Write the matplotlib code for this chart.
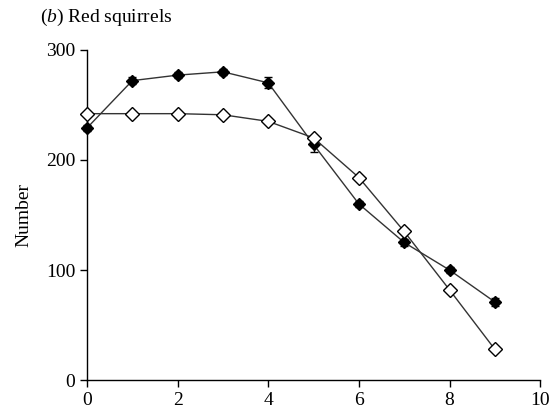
import matplotlib.pyplot as plt
import numpy as np

plt.rcParams['font.family'] = ['Liberation Serif', 'DejaVu Serif']
plt.rcParams['mathtext.fontset'] = 'custom'
plt.rcParams['mathtext.it'] = 'Liberation Serif:italic'
plt.rcParams['mathtext.rm'] = 'Liberation Serif'

# age classes
x = np.arange(10)
# filled symbols (observed)
filled = [229, 272, 277, 280, 270, 214, 160, 125, 100, 71]
filled_err = [3, 3, 3, 3, 5, 7, 3, 3, 3, 4]
# open symbols
open_vals = [242, 242, 242, 241, 235, 220, 184, 135, 82, 28]

fig = plt.figure(figsize=(5.54, 4.15), dpi=100)
ax = fig.add_axes([0.157, 0.084, 0.818, 0.796])

ax.errorbar(x, filled, yerr=filled_err, color='#333333', lw=1, marker='D',
            ms=6, mfc='black', mec='black', ecolor='black', elinewidth=1,
            capsize=3, zorder=3)
ax.plot(x, open_vals, color='#333333', lw=1, marker='D', ms=7,
        mfc='white', mec='black', mew=1, zorder=4)

ax.set_xlim(0, 10)
ax.set_ylim(0, 300)
ax.set_xticks([0, 2, 4, 6, 8, 10])
ax.set_yticks([0, 100, 200, 300])
ax.spines['top'].set_visible(False)
ax.spines['right'].set_visible(False)
ax.tick_params(direction='out', length=5, labelsize=14, width=1)
ax.set_ylabel('Number', fontsize=14, labelpad=10)
for s in ax.spines.values():
    s.set_linewidth(1)

fig.text(0.072, 0.957, r'($b$) Red squirrels', fontsize=14, va='center')
ax.patch.set_visible(False)
for l in ax.lines:
    l.set_clip_on(False)

fig.savefig('out.png', dpi=100)
